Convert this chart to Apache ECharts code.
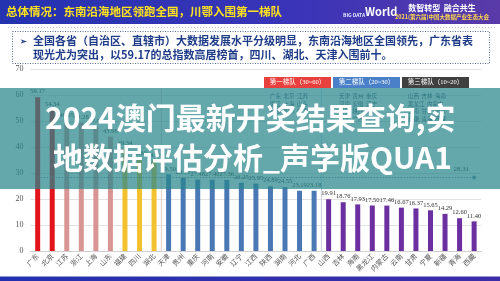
<!DOCTYPE html>
<html>
<head>
<meta charset="utf-8">
<script src="https://cdn.jsdelivr.net/npm/echarts@6/dist/echarts.min.js"></script>
<style>
  html, body { margin: 0; padding: 0; background: #fff; }
  #chart { width: 500px; height: 281px; }
</style>
</head>
<body>
<div id="chart"></div>
<script>
// data
const provinces = ['广东', '北京', '江苏', '浙江', '上海', '山东', '福建', '四川', '湖北',
  '天津', '贵州', '重庆', '河南', '安徽', '辽宁', '江西', '陕西', '湖南', '河北', '广西',
  '山西', '吉林', '海南', '黑龙江', '内蒙古', '云南', '甘肃', '宁夏', '新疆', '青海', '西藏'];
const scores = [59.17, 54.34, 49.95, 49.28, 47.90, 43.98, 39.34, 35.60, 34.70,
  29.50, 28.10, 27.48, 27.40, 27.36, 26.25, 25.95, 24.89, 24.55, 23.19, 23.18,
  19.91, 18.76, 17.93, 17.50, 17.46, 16.67, 16.37, 15.65, 14.29, 12.60, 11.40];
const average = 28.31;
const tierLabels = ['第一梯队（30~60）', '第二梯队（20~30）', '第三梯队（10~20）'];
const tierNames = [
  ['广东  北京  江苏', '浙江  上海  山东', '福建  四川  湖北'],
  ['天津  贵州  重庆', '河南  安徽  辽宁', '江西  陕西  湖南', '河北  广西'],
  ['山西  吉林  海南', '黑龙江  内蒙古', '云南  甘肃  宁夏', '新疆  青海  西藏']
];
const headline = '总体情况：东南沿海地区领跑全国，川鄂入围第一梯队';
const summary = [
  '全国各省（自治区、直辖市）大数据发展水平分级明显，东南沿海地区全国领先，广东省表',
  '现光尤为突出，以59.17的总指数高居榜首，四川、湖北、天津入围前十。'
];
const overlayLines = ['2024澳门最新开奖结果查询,实', '地数据评估分析_声学版QUA1'];

// bar colour groups (count of bars per colour)
const colorGroups = [[2, '#e3141b'], [4, '#d99593'], [3, '#f2c12e'], [11, '#4a78b5'], [11, '#6b2fa0']];
const barColors = [];
colorGroups.forEach(([n, c]) => { for (let i = 0; i < n; i++) barColors.push(c); });

const cjk = '"Noto Sans CJK SC", "Noto Sans", sans-serif';
const serif = '"Liberation Serif", "DejaVu Serif", serif';

const chart = echarts.init(document.getElementById('chart'));

chart.setOption({
  animation: false,
  backgroundColor: '#fff',
  grid: { left: 30.4, right: 18.6, top: 69, bottom: 30 },
  xAxis: {
    type: 'category',
    data: provinces,
    axisTick: { show: false },
    axisLine: { lineStyle: { color: '#d0d0d0' } },
    axisLabel: { interval: 0, rotate: 45, fontSize: 7, color: '#555', fontFamily: cjk, margin: 4 }
  },
  yAxis: {
    type: 'value',
    min: 0,
    max: 70,
    interval: 10,
    axisLine: { show: false },
    axisTick: { show: false },
    axisLabel: { fontSize: 8, color: '#555', fontFamily: serif, margin: 7 },
    splitLine: { lineStyle: { color: '#e2e2e2' } }
  },
  series: [{
    type: 'bar',
    barWidth: 5,
    data: scores.map((v, i) => ({ value: v, itemStyle: { color: barColors[i] } })),
    label: {
      show: true,
      position: 'top',
      distance: 2,
      fontSize: 6.5,
      fontFamily: serif,
      color: '#333',
      formatter: p => p.value.toFixed(2)
    },
    markLine: {
      silent: true,
      symbol: ['none', 'circle'],
      symbolSize: 4,
      lineStyle: { color: '#7a8a9a', type: [1.5, 1.5], width: 1 },
      label: { position: 'insideEndTop', fontSize: 7, fontFamily: serif, color: '#333', formatter: () => average.toFixed(2) },
      data: [[{ coord: [provinces[0], average] }, { coord: [provinces[provinces.length - 1], average] }]]
    }
  }]
});

// separators between tiers, placed from the axis itself
const px = i => chart.convertToPixel({ xAxisIndex: 0 }, provinces[i]);
const sep1 = (px(8) + px(9)) / 2;
const sep2 = (px(19) + px(20)) / 2;
const y0 = chart.convertToPixel({ yAxisIndex: 0 }, 0);
const yTop = chart.convertToPixel({ yAxisIndex: 0 }, 70);

const graphic = [];
// separators
[[sep1, '#e8c8c8'], [sep2, '#c8d0dc']].forEach(([x, c]) => {
  graphic.push({ type: 'line', shape: { x1: x, y1: yTop + 20, x2: x, y2: y0 }, style: { stroke: c, lineWidth: 1 } });
});

// top banner
graphic.push({
  type: 'rect', shape: { x: 0, y: 0, width: 500, height: 24 },
  style: { fill: new echarts.graphic.LinearGradient(0, 0, 1, 0, [
    { offset: 0, color: '#2433b0' }, { offset: 0.6, color: '#3a34b8' }, { offset: 1, color: '#5a3aa8' }]) }
});
graphic.push({
  type: 'text', x: 6, y: 12,
  style: { text: headline, fill: '#ffe21a', font: 'bold 11.5px ' + cjk, verticalAlign: 'middle' }
});
graphic.push({
  type: 'text', x: 343, y: 15,
  style: { text: 'BIG DATA', fill: '#dfe6ff', font: 'bold 5px ' + cjk, verticalAlign: 'middle' }
});
graphic.push({
  type: 'text', x: 365, y: 12,
  style: { text: 'World', fill: '#ffffff', font: 'bold 11px ' + cjk, verticalAlign: 'middle' }
});
graphic.push({
  type: 'text', x: 442, y: 8,
  style: { text: '数智转型  融合共生', fill: '#ffffff', font: 'bold 8px ' + cjk, align: 'center', verticalAlign: 'middle' }
});
graphic.push({
  type: 'text', x: 442, y: 17,
  style: { text: '2021(第六届)中国大数据产业生态大会', fill: '#ffd84a', font: 'bold 5.5px ' + cjk, align: 'center', verticalAlign: 'middle' }
});
graphic.push({
  type: 'line', shape: { x1: 8, y1: 27.5, x2: 495, y2: 27.5 },
  style: { stroke: '#b8bccb', lineWidth: 1, lineDash: [1, 2] }
});

// summary box
graphic.push({
  type: 'rect', shape: { x: 12.5, y: 31.5, width: 477, height: 32 },
  style: { fill: 'none', stroke: '#5b6a9a', lineWidth: 1, lineDash: [1, 1.5] }
});
graphic.push({
  type: 'text', x: 20, y: 41,
  style: { text: '➢', fill: '#1f3c88', font: 'bold 8px ' + cjk, verticalAlign: 'middle' }
});
summary.forEach((t, i) => {
  graphic.push({
    type: 'text', x: 33, y: 41 + i * 14,
    style: { text: t, fill: '#1f3c88', font: 'bold 11px ' + cjk, verticalAlign: 'middle' }
  });
});

// tier legend
const tierBoxColors = ['#e8403c', '#4a80c8', '#404040'];
const tierX = [264, 333, 402];
tierLabels.forEach((t, i) => {
  graphic.push({
    type: 'rect', shape: { x: tierX[i], y: 77, width: 67, height: 11 },
    style: { fill: tierBoxColors[i] }
  });
  graphic.push({
    type: 'text', x: tierX[i] + 33.5, y: 82.5,
    style: { text: t, fill: '#fff', font: '6.5px ' + serif + ', ' + cjk, align: 'center', verticalAlign: 'middle' }
  });
  tierNames[i].forEach((row, r) => {
    graphic.push({
      type: 'text', x: tierX[i] + 6, y: 96 + r * 7.5,
      style: { text: row, fill: '#3a4660', font: '5.5px ' + cjk, verticalAlign: 'middle' }
    });
  });
});

// overlay band with headline text
graphic.push({
  type: 'rect', shape: { x: 0, y: 88, width: 500, height: 101 },
  style: { fill: 'rgba(40,135,140,0.72)' }, z: 100
});
overlayLines.forEach((t, i) => {
  graphic.push({
    type: 'text', x: [45, 53][i], y: [118, 158][i], z: 101,
    style: { text: t, fill: '#ffffff', font: 'bold 30px ' + cjk, verticalAlign: 'middle' }
  });
});

// bottom bar
graphic.push({
  type: 'rect', shape: { x: 0, y: 276.5, width: 500, height: 5 },
  style: { fill: new echarts.graphic.LinearGradient(0, 0, 1, 0, [
    { offset: 0, color: '#2230b0' }, { offset: 1, color: '#3c2ca8' }]) }
});

chart.setOption({ graphic: graphic });
</script>
</body>
</html>
